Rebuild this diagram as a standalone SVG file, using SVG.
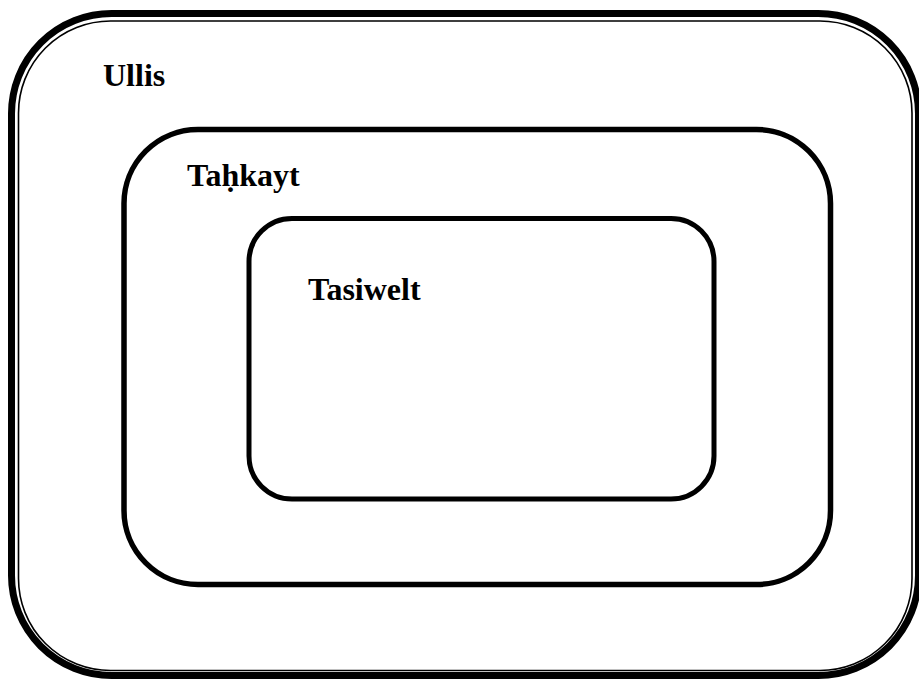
<svg xmlns="http://www.w3.org/2000/svg" width="919" height="679" viewBox="0 0 919 679">
  <style>
    .frame { fill: none; stroke: #000; }
    .label { font-family: "Liberation Serif", "Times New Roman", serif; font-weight: bold; font-size: 32px; fill: #000; }
  </style>
  <rect width="919" height="679" fill="#fff"/>
  <!-- outer double border: thick line outside, thin line inside -->
  <g id="ullis">
    <rect class="frame" x="11.5" y="13.5" width="907" height="662" rx="100" ry="100" stroke-width="7"/>
    <rect class="frame" x="18.5" y="21" width="893.5" height="649.5" rx="92" ry="92" stroke-width="1.6"/>
    <text class="label" x="103" y="86">Ullis</text>
  </g>
  <g id="tahkayt">
    <rect class="frame" x="124" y="129.5" width="706.5" height="455" rx="74" ry="74" stroke-width="5.5"/>
    <text class="label" x="187" y="186">Taḥkayt</text>
  </g>
  <g id="tasiwelt">
    <rect class="frame" x="249" y="218.5" width="465" height="280.5" rx="43" ry="43" stroke-width="5"/>
    <text class="label" x="308" y="300">Tasiwelt</text>
  </g>
  <g id="connectors"/>
</svg>
